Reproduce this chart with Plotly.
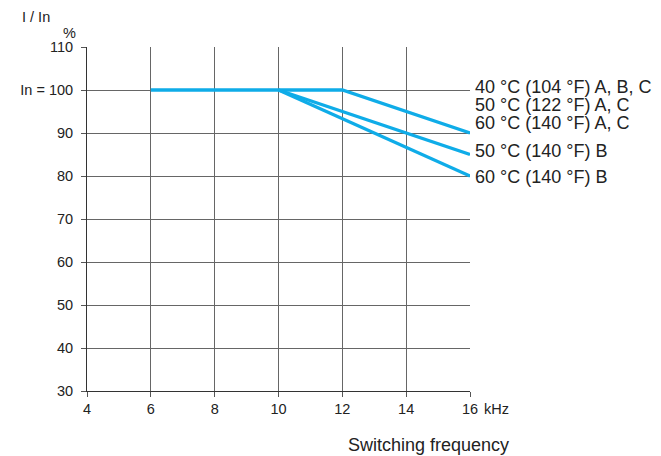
import plotly.graph_objects as go

freq_40 = [6, 10, 12, 16]
vals_40 = [100, 100, 100, 90]
freq_50b = [10, 16]
vals_50b = [100, 85]
freq_60b = [10, 16]
vals_60b = [100, 80]

x_ticks = [4, 6, 8, 10, 12, 14, 16]
y_ticks = [30, 40, 50, 60, 70, 80, 90, 100, 110]
y_ticktext = ["30", "40", "50", "60", "70", "80", "90", "In = 100", "110"]

curve_labels = ["40 °C (104 °F) A, B, C", "50 °C (122 °F) A, C", "60 °C (140 °F) A, C",
                "50 °C (140 °F) B", "60 °C (140 °F) B"]
curve_label_y = [100.8, 96.4, 92.4, 85.9, 79.8]

BLUE = "#0FACE8"
FONT = "Liberation Sans, Arial, sans-serif"
TXT = "#222222"

W, H = 661, 456
ml, mr, mt, mb = 69, 199, 39, 73
pw, ph = W - ml - mr, H - mt - mb


def px(xp):
    return (xp - ml) / pw


def py(yp):
    return 1 - (yp - mt) / ph


fig = go.Figure()
for xs, ys in [(freq_40, vals_40), (freq_50b, vals_50b), (freq_60b, vals_60b)]:
    fig.add_trace(go.Scatter(x=xs, y=ys, mode="lines",
                             line=dict(color=BLUE, width=3.3), showlegend=False,
                             hoverinfo="skip"))

for t, yv in zip(curve_labels, curve_label_y):
    fig.add_annotation(x=16, y=yv, xref="x", yref="y", text=t, showarrow=False,
                       xanchor="left", yanchor="middle", xshift=3,
                       font=dict(family=FONT, size=18, color=TXT))

fig.add_annotation(x=16, y=30, xref="x", yref="y", text="kHz", showarrow=False,
                   xanchor="left", yanchor="middle", xshift=12, yshift=-18,
                   font=dict(family=FONT, size=14.5, color=TXT))
fig.add_annotation(x=px(51), y=py(25), xref="paper", yref="paper", text="%",
                   showarrow=False, xanchor="center", yanchor="middle",
                   font=dict(family=FONT, size=14.5, color=TXT))
fig.add_annotation(x=px(0), y=py(9), xref="paper", yref="paper", text="I / In",
                   showarrow=False, xanchor="left", yanchor="middle",
                   font=dict(family=FONT, size=14.5, color=TXT))
fig.add_annotation(x=px(419), y=py(437), xref="paper", yref="paper",
                   text="Switching frequency", showarrow=False,
                   xanchor="center", yanchor="middle",
                   font=dict(family=FONT, size=18, color=TXT))

fig.update_layout(
    width=W, height=H,
    margin=dict(l=ml, r=mr, t=mt, b=mb),
    paper_bgcolor="white", plot_bgcolor="white",
    font=dict(family=FONT, size=14.5, color=TXT),
)
fig.update_xaxes(range=[4, 16], tickvals=x_ticks, showgrid=True, gridcolor="#666666",
                 gridwidth=1, showline=True, linecolor="#333333", linewidth=1,
                 ticks="outside", ticklen=5, tickcolor="#555555", zeroline=False,
                 tickfont=dict(family=FONT, size=14.5, color=TXT))
fig.update_yaxes(range=[30, 110], tickvals=y_ticks, ticktext=y_ticktext, showgrid=True,
                 gridcolor="#666666", gridwidth=1, showline=True, linecolor="#333333",
                 linewidth=1, ticks="outside", ticklen=5, tickcolor="#555555",
                 zeroline=False, ticklabelstandoff=5,
                 tickfont=dict(family=FONT, size=14.5, color=TXT))

fig.write_html("out.html")
